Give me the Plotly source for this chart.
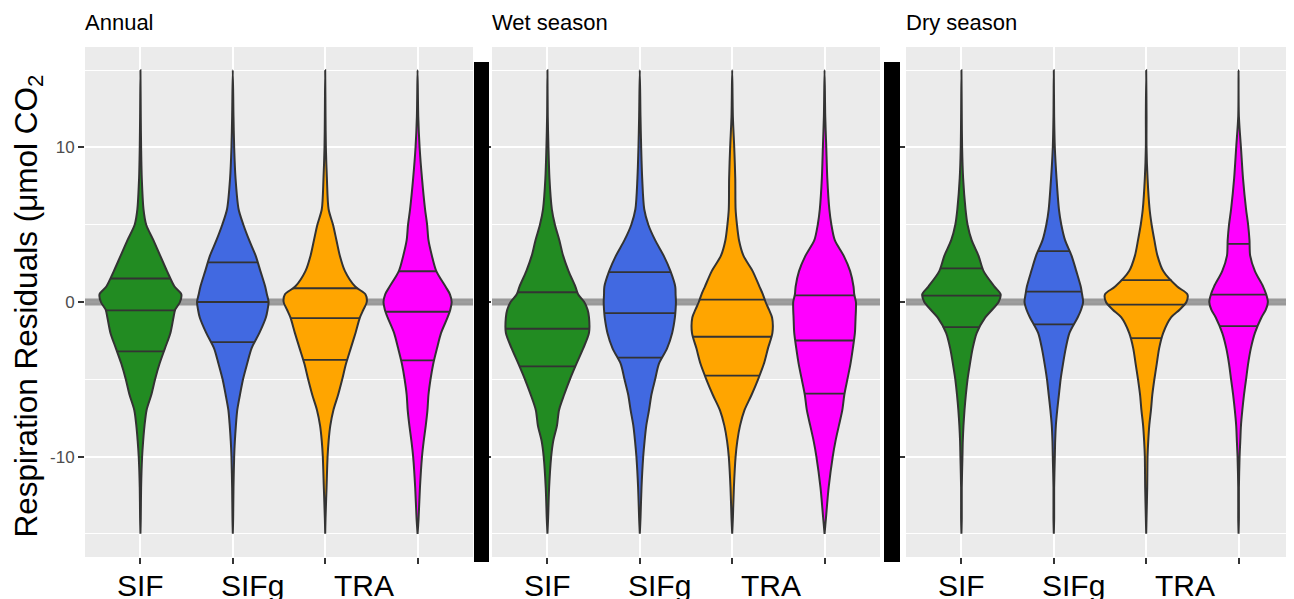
import numpy as np
import plotly.graph_objects as go

# ---------------- data ----------------
PANELS = ["Annual", "Wet season", "Dry season"]
CATEGORIES = ["SIF", "SIFg", "TRA", ""]
COLORS = ["#228B22", "#4169E1", "#FFA500", "#FF00FF"]

Y_GRID = [15, 12, 10, 8, 6, 5, 4, 3, 2, 1, 0.5, 0, -0.5, -1, -2, -3, -4, -5,
          -6, -7, -8, -9, -10, -12, -14, -15]

# relative density (violin half-width) at each Y_GRID value
annual_sif = [0, 1, 2, 4, 9, 17, 38, 58, 78, 100, 120, 116, 102, 97, 88, 72, 56, 43, 32, 18, 12, 8, 5, 2, 1, 0]
annual_sifg = [0, 2, 4, 8, 17, 31, 48, 67, 81, 95, 100, 105, 102, 97, 78, 55, 42, 30, 21, 13, 9, 6, 4, 2, 1, 0]
annual_tra = [0, 1, 2, 5, 10, 23, 33, 43, 58, 88, 118, 122, 112, 102, 89, 75, 61, 50, 38, 24, 15, 10, 7, 4, 1, 0]
annual_x4 = [0, 2, 6, 13, 22, 28, 32, 42, 55, 82, 95, 100, 96, 88, 69, 57, 46, 38, 32, 29, 24, 18, 13, 7, 3, 0]

wet_sif = [0, 1, 3, 6, 13, 22, 35, 46, 62, 82, 90, 108, 118, 122, 122, 105, 85, 66, 49, 34, 28, 17, 11, 5, 2, 0]
wet_sifg = [0, 2, 4, 7, 13, 25, 45, 70, 90, 104, 105, 106, 105, 103, 95, 80, 56, 45, 34, 27, 19, 14, 10, 5, 2, 0]
wet_tra = [0, 2, 6, 9, 10, 14, 20, 33, 60, 80, 90, 98, 108, 117, 118, 105, 93, 76, 57, 36, 23, 15, 10, 5, 2, 0]
wet_x4 = [0, 2, 5, 8, 14, 20, 30, 56, 75, 85, 87, 92, 92, 91, 89, 83, 76, 67, 58, 52, 42, 32, 24, 12, 4, 0]

dry_sif = [0, 1, 2, 5, 12, 18, 30, 50, 65, 97, 115, 109, 90, 70, 45, 33, 25, 18, 13, 9, 6, 4, 3, 1, 1, 0]
dry_sifg = [0, 1, 3, 8, 15, 22, 33, 52, 66, 79, 83, 86, 80, 70, 46, 35, 27, 20, 15, 10, 6, 4, 3, 1, 1, 0]
dry_tra = [0, 1, 1, 4, 10, 16, 24, 33, 50, 91, 121, 118, 98, 73, 50, 38, 31, 24, 18, 14, 9, 6, 4, 3, 1, 0]
dry_x4 = [0, 1, 7, 13, 22, 28, 32, 34, 48, 72, 81, 86, 80, 67, 48, 36, 28, 22, 16, 11, 7, 5, 3, 1, 1, 0]

# quartiles [Q1, median, Q3] per category
annual_quartiles = [[-3.2, -0.54, 1.52], [-2.6, 0.0, 2.56], [-3.74, -1.04, 0.89], [-3.78, -0.63, 1.99]]
wet_quartiles = [[-4.16, -1.73, 0.63], [-3.6, -0.72, 1.93], [-4.76, -2.25, 0.15], [-5.93, -2.49, 0.43]]
dry_quartiles = [[-1.62, 0.41, 2.18], [-1.45, 0.67, 3.29], [-2.34, -0.17, 1.41], [-1.56, 0.48, 3.76]]

Y_TICKS = [-10, 0, 10]
Y_TICK_TEXT = ["-10", "0", "10"]
Y_MINOR = [-15, -5, 5, 15]
X_RANGE = [0.4, 4.6]
Y_RANGE = [-16.5, 16.5]

profiles = [
    [annual_sif, annual_sifg, annual_tra, annual_x4],
    [wet_sif, wet_sifg, wet_tra, wet_x4],
    [dry_sif, dry_sifg, dry_tra, dry_x4],
]
quartiles = [annual_quartiles, wet_quartiles, dry_quartiles]

# ---------------- layout geometry ----------------
# the page body adds an 8px margin, so the figure is drawn 8px smaller
OFF = 8
W, H = 1294 - OFF, 599 - OFF
ML, MR, MT, MB = 85 - OFF, 0, 47 - OFF, 42
PW = W - ML - MR
PH = H - MT - MB


def px_x(a):
    return (a - OFF - ML) / PW


def px_y(b):
    return (H - MB - (b - OFF)) / PH


DOMAINS = [[px_x(85), px_x(473)], [px_x(492), px_x(880)], [px_x(906), 1.0]]
HALF_MAX = 0.45
dens_max = max(max(v) for panel in profiles for v in panel)
scale = HALF_MAX / dens_max
OUTLINE = "#333333"

fig = go.Figure()
ygrid = np.array(Y_GRID, dtype=float)

for p in range(3):
    xs = "x" if p == 0 else f"x{p+1}"
    ys = "y" if p == 0 else f"y{p+1}"

    # zero reference line (drawn first, under the violins)
    fig.add_trace(go.Scatter(
        x=X_RANGE, y=[0, 0], mode="lines",
        line=dict(color="rgba(120,120,120,0.72)", width=7),
        xaxis=xs, yaxis=ys, showlegend=False, hoverinfo="skip"))

    for i in range(4):
        c = i + 1
        w = np.array(profiles[p][i], dtype=float) * scale
        x_out = np.concatenate([c + w, (c - w)[::-1]])
        y_out = np.concatenate([ygrid, ygrid[::-1]])
        fig.add_trace(go.Scatter(
            x=x_out, y=y_out, mode="lines", fill="toself",
            fillcolor=COLORS[i],
            line=dict(color=OUTLINE, width=2, shape="spline", smoothing=0.8),
            xaxis=xs, yaxis=ys, showlegend=False, hoverinfo="skip"))
        qx, qy = [], []
        asc_y = ygrid[::-1]
        asc_w = w[::-1]
        for q in quartiles[p][i]:
            hw = float(np.interp(q, asc_y, asc_w))
            qx += [c - hw, c + hw, None]
            qy += [q, q, None]
        fig.add_trace(go.Scatter(
            x=qx, y=qy, mode="lines", line=dict(color=OUTLINE, width=1.8),
            xaxis=xs, yaxis=ys, showlegend=False, hoverinfo="skip"))

    fig.layout[f"xaxis{'' if p == 0 else p+1}"] = dict(
        domain=DOMAINS[p], range=X_RANGE, anchor=ys,
        tickvals=[1, 2, 3, 4], showticklabels=False,
        ticks="outside", ticklen=6, tickwidth=1.5, tickcolor=OUTLINE,
        showgrid=True, gridcolor="white", gridwidth=1.5,
        showline=False, zeroline=False)
    fig.layout[f"yaxis{'' if p == 0 else p+1}"] = dict(
        domain=[0, 1], range=Y_RANGE, anchor=xs,
        tickvals=Y_TICKS, ticktext=Y_TICK_TEXT, showticklabels=(p == 0),
        tickfont=dict(size=17, color="#4D4D4D"),
        ticks="outside", ticklen=6, tickwidth=1.5, tickcolor=OUTLINE,
        showgrid=True, gridcolor="white", gridwidth=1.5,
        minor=dict(tickvals=Y_MINOR, showgrid=True, gridcolor="white",
                   gridwidth=0.7, ticks=""),
        showline=False, zeroline=False)

    # panel title
    fig.add_annotation(text=PANELS[p], xref=f"{xs} domain", yref="paper",
                       x=0, y=1, xanchor="left", yanchor="middle", yshift=25,
                       xshift=-2, showarrow=False,
                       font=dict(size=22, color="black"))

    # category labels
    for i, lab in enumerate(CATEGORIES):
        if not lab:
            continue
        fig.add_annotation(text=lab, xref=xs, yref="paper", x=i + 1, y=0,
                           xanchor="center", yanchor="top", yshift=-10,
                           xshift=i * 19.5, showarrow=False,
                           font=dict(size=30, color="black"))

# black separators between panels
for (a, b) in [(474, 489), (884, 900)]:
    fig.add_shape(type="rect", xref="paper", yref="paper",
                  x0=px_x(a), x1=px_x(b), y0=px_y(562), y1=px_y(62),
                  fillcolor="black", line=dict(width=0), layer="above")

# y-axis title
fig.add_annotation(text="Respiration Residuals (μmol CO<sub>2</sub>",
                   xref="paper", yref="paper", x=px_x(28), y=px_y(540),
                   xanchor="center", yanchor="bottom", textangle=-90,
                   showarrow=False, font=dict(size=31.5, color="black"))

fig.update_layout(
    width=W, height=H, margin=dict(l=ML, r=MR, t=MT, b=MB),
    paper_bgcolor="white", plot_bgcolor="#EBEBEB",
    font=dict(family="Liberation Sans, Arial, sans-serif"),
    showlegend=False,
)

fig.write_html("out.html")
